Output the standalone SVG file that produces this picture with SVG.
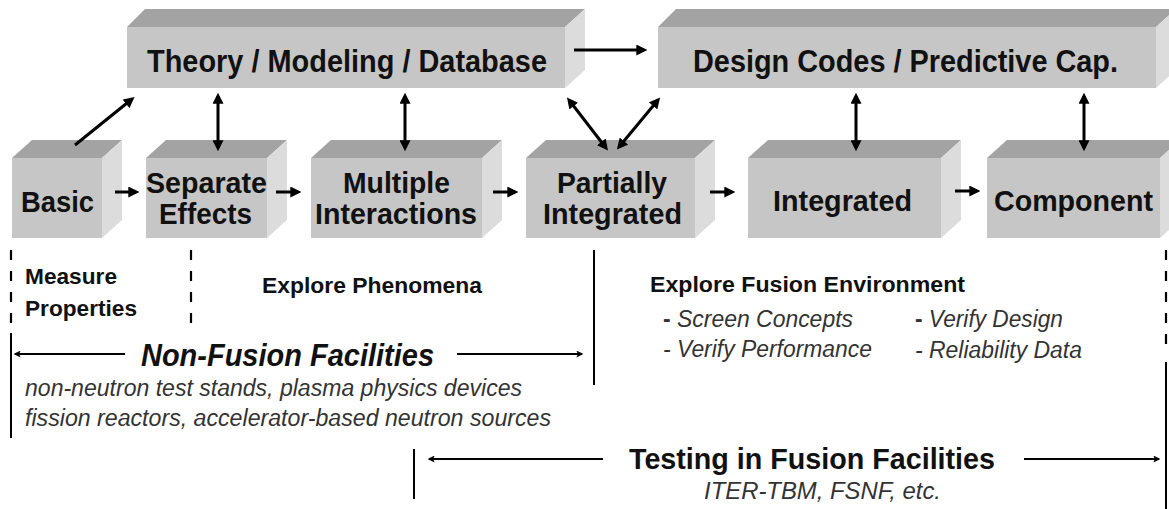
<svg xmlns="http://www.w3.org/2000/svg" width="1169" height="509" viewBox="0 0 1169 509">
<style>
.front{fill:#c6c6c6}
.top{fill:#a3a3a3}
.side{fill:#dcdcdc}
.bt{font-family:"Liberation Sans",Arial,sans-serif;font-weight:bold;fill:#111}
.big{font-size:32px}
.box{font-size:30px}
.lbl{font-family:"Liberation Sans",Arial,sans-serif;font-weight:bold;font-size:22px;fill:#111}
.it{font-family:"Liberation Sans",Arial,sans-serif;font-style:italic;font-size:23px;fill:#333}
.conn{stroke:#000;stroke-width:3;fill:none}
.thin{stroke:#000;stroke-width:1.8;fill:none}
.dash{stroke:#000;stroke-width:2.2;stroke-dasharray:10 11;fill:none}
.solid{stroke:#000;stroke-width:2;fill:none}
</style>
<defs>
<marker id="ah" viewBox="0 0 10 10" refX="7" refY="5" markerWidth="11" markerHeight="11" markerUnits="userSpaceOnUse" orient="auto-start-reverse">
<path d="M0,0 L10,5 L0,10 z" fill="#000"/>
</marker>
<marker id="ahs" viewBox="0 0 10 10" refX="8" refY="5" markerWidth="10" markerHeight="7" markerUnits="userSpaceOnUse" orient="auto-start-reverse">
<path d="M0,0 L10,5 L0,10 L2,5 z" fill="#000"/>
</marker>
</defs>

<g id="theory">
<polygon class="top" points="127,27 145,9 585,9 565,27"/>
<polygon class="side" points="565,27 585,9 585,70 565,88"/>
<rect class="front" x="127" y="27" width="438" height="61"/>
<text class="bt big" x="147" y="72" textLength="400" lengthAdjust="spacingAndGlyphs">Theory / Modeling / Database</text>
</g>

<g id="design">
<polygon class="top" points="658,27 676,9 1169,9 1169,15.3 1156,27"/>
<polygon class="side" points="1156,27 1169,15.3 1169,76.3 1156,88"/>
<rect class="front" x="658" y="27" width="498" height="61"/>
<text class="bt big" x="693" y="72" textLength="425" lengthAdjust="spacingAndGlyphs">Design Codes / Predictive Cap.</text>
</g>

<g id="basic">
<polygon class="top" points="12,158 32,140 122,140 102,158"/>
<polygon class="side" points="102,158 122,140 122,220 102,238"/>
<rect class="front" x="12" y="158" width="90" height="80"/>
<text class="bt box" x="21" y="212" textLength="73" lengthAdjust="spacingAndGlyphs">Basic</text>
</g>

<g id="separate">
<polygon class="top" points="146,158 166,140 287,140 267,158"/>
<polygon class="side" points="267,158 287,140 287,220 267,238"/>
<rect class="front" x="146" y="158" width="121" height="80"/>
<text class="bt box" x="146" y="193" textLength="121" lengthAdjust="spacingAndGlyphs">Separate</text>
<text class="bt box" x="159" y="224" textLength="93" lengthAdjust="spacingAndGlyphs">Effects</text>
</g>

<g id="multiple">
<polygon class="top" points="311,158 331,140 502,140 482,158"/>
<polygon class="side" points="482,158 502,140 502,220 482,238"/>
<rect class="front" x="311" y="158" width="171" height="80"/>
<text class="bt box" x="343" y="193" textLength="107" lengthAdjust="spacingAndGlyphs">Multiple</text>
<text class="bt box" x="315" y="224" textLength="162" lengthAdjust="spacingAndGlyphs">Interactions</text>
</g>

<g id="partial">
<polygon class="top" points="526,158 546,140 715,140 695,158"/>
<polygon class="side" points="695,158 715,140 715,220 695,238"/>
<rect class="front" x="526" y="158" width="169" height="80"/>
<text class="bt box" x="557" y="193" textLength="110" lengthAdjust="spacingAndGlyphs">Partially</text>
<text class="bt box" x="543" y="224" textLength="139" lengthAdjust="spacingAndGlyphs">Integrated</text>
</g>

<g id="integrated">
<polygon class="top" points="748,158 768,140 961,140 941,158"/>
<polygon class="side" points="941,158 961,140 961,220 941,238"/>
<rect class="front" x="748" y="158" width="193" height="80"/>
<text class="bt box" x="773" y="211" textLength="139" lengthAdjust="spacingAndGlyphs">Integrated</text>
</g>

<g id="component">
<polygon class="top" points="987,158 1007,140 1169,140 1169,149.9 1160,158"/>
<polygon class="side" points="1160,158 1169,149.9 1169,229.9 1160,238"/>
<rect class="front" x="987" y="158" width="173" height="80"/>
<text class="bt box" x="994" y="211" textLength="159" lengthAdjust="spacingAndGlyphs">Component</text>
</g>

<g id="connectors">
<line class="conn" x1="75" y1="145" x2="132" y2="99" marker-end="url(#ah)"/>
<line class="conn" x1="218" y1="96" x2="218" y2="148" marker-start="url(#ah)" marker-end="url(#ah)"/>
<line class="conn" x1="405" y1="96" x2="405" y2="148" marker-start="url(#ah)" marker-end="url(#ah)"/>
<line class="conn" x1="574" y1="50" x2="644" y2="50" marker-end="url(#ah)"/>
<line class="conn" x1="569" y1="100" x2="606" y2="148" marker-start="url(#ah)" marker-end="url(#ah)"/>
<line class="conn" x1="619" y1="147" x2="658" y2="100" marker-start="url(#ah)" marker-end="url(#ah)"/>
<line class="conn" x1="856" y1="96" x2="856" y2="148" marker-start="url(#ah)" marker-end="url(#ah)"/>
<line class="conn" x1="1084" y1="96" x2="1084" y2="148" marker-start="url(#ah)" marker-end="url(#ah)"/>
<line class="conn" x1="115" y1="192" x2="136" y2="192" marker-end="url(#ah)"/>
<line class="conn" x1="276" y1="192" x2="298" y2="192" marker-end="url(#ah)"/>
<line class="conn" x1="493" y1="192" x2="515" y2="192" marker-end="url(#ah)"/>
<line class="conn" x1="710" y1="192" x2="732" y2="192" marker-end="url(#ah)"/>
<line class="conn" x1="955" y1="191" x2="977" y2="191" marker-end="url(#ah)"/>

<line class="dash" x1="11" y1="250" x2="11" y2="323"/>
<line class="dash" x1="191" y1="250" x2="191" y2="323"/>
<line class="dash" x1="1166" y1="250" x2="1166" y2="346"/>
<line class="solid" x1="11" y1="333" x2="11" y2="438"/>
<line class="solid" x1="594" y1="250" x2="594" y2="385"/>
<line class="solid" x1="414" y1="449" x2="414" y2="499"/>
<line class="solid" x1="1166" y1="362" x2="1166" y2="509"/>

<line class="thin" x1="125" y1="354" x2="15" y2="354" marker-end="url(#ahs)"/>
<line class="thin" x1="457" y1="354" x2="582" y2="354" marker-end="url(#ahs)"/>
<line class="thin" x1="603" y1="459" x2="429" y2="459" marker-end="url(#ahs)"/>
<line class="thin" x1="1024" y1="459" x2="1159" y2="459" marker-end="url(#ahs)"/>
</g>

<g id="labels">
<text class="lbl" x="25" y="284" textLength="92" lengthAdjust="spacingAndGlyphs">Measure</text>
<text class="lbl" x="25" y="316" textLength="112" lengthAdjust="spacingAndGlyphs">Properties</text>
<text class="lbl" x="262" y="293" textLength="220" lengthAdjust="spacingAndGlyphs">Explore Phenomena</text>
<text class="lbl" x="650" y="292" textLength="315" lengthAdjust="spacingAndGlyphs">Explore Fusion Environment</text>
<text class="it" x="663" y="327" textLength="190" lengthAdjust="spacingAndGlyphs"><tspan font-weight="bold" font-style="normal">-</tspan> Screen Concepts</text>
<text class="it" x="663" y="357" textLength="209" lengthAdjust="spacingAndGlyphs">- Verify Performance</text>
<text class="it" x="915" y="327" textLength="148" lengthAdjust="spacingAndGlyphs"><tspan font-weight="bold" font-style="normal">-</tspan> Verify Design</text>
<text class="it" x="915" y="358" textLength="167" lengthAdjust="spacingAndGlyphs">- Reliability Data</text>
<text class="bt" x="141" y="366" font-size="31" font-style="italic" textLength="293" lengthAdjust="spacingAndGlyphs">Non-Fusion Facilities</text>
<text class="it" x="25" y="396" textLength="497" lengthAdjust="spacingAndGlyphs">non-neutron test stands, plasma physics devices</text>
<text class="it" x="25" y="426" textLength="526" lengthAdjust="spacingAndGlyphs">fission reactors, accelerator-based neutron sources</text>
<text class="bt" x="629" y="469" font-size="30" textLength="366" lengthAdjust="spacingAndGlyphs">Testing in Fusion Facilities</text>
<text class="it" x="704" y="499" textLength="237" lengthAdjust="spacingAndGlyphs">ITER-TBM, FSNF, etc.</text>
</g>
</svg>
